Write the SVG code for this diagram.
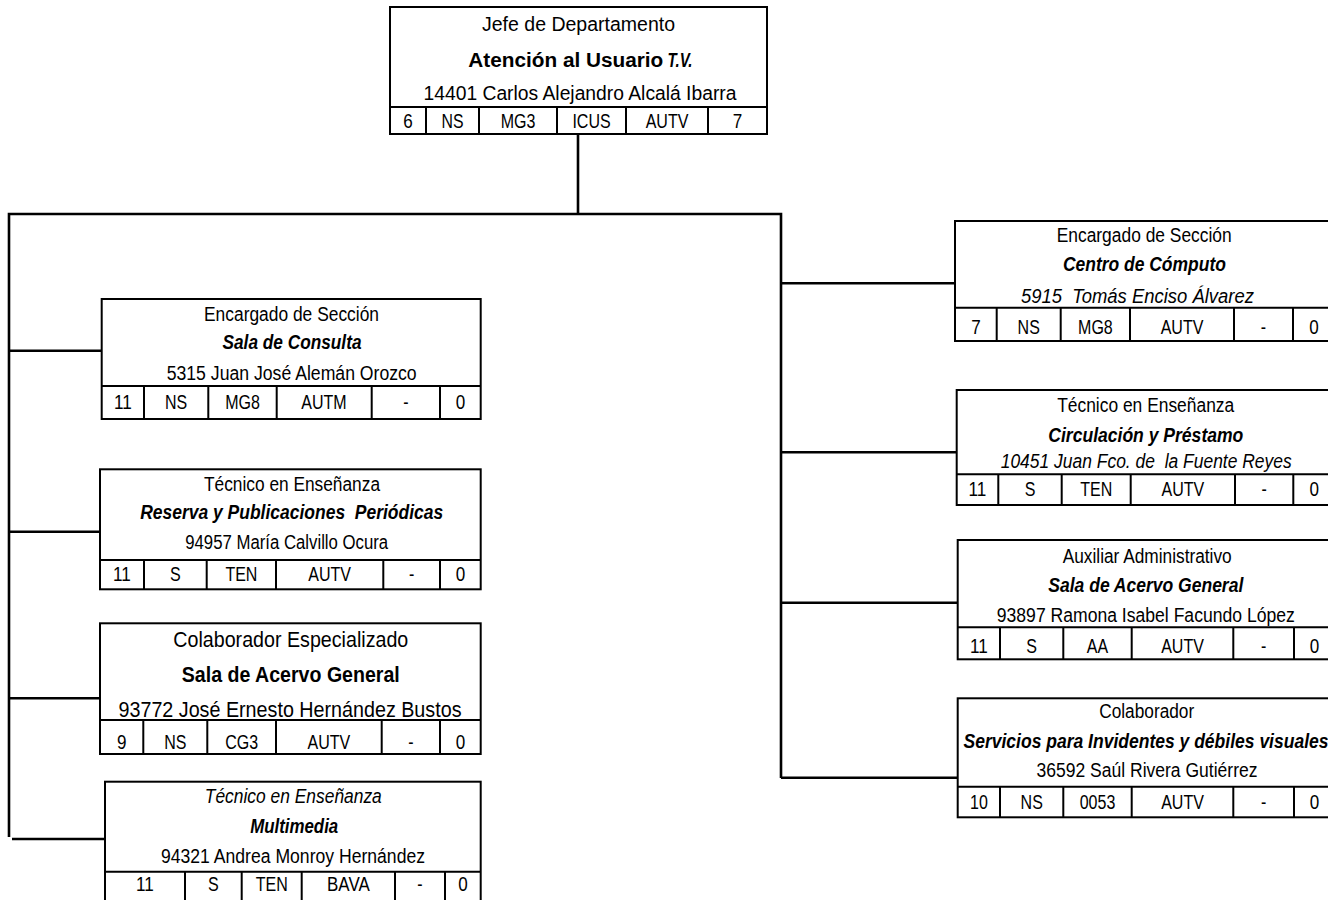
<svg xmlns="http://www.w3.org/2000/svg" width="1328" height="900" viewBox="0 0 1328 900">
<style>
.box{fill:#fff;stroke:#000;stroke-width:2}
.dv{stroke:#000;stroke-width:2;fill:none}
.cn{fill:none;stroke:#000;stroke-width:2.6;stroke-linejoin:miter}
text{font-family:"Liberation Sans",Arial,sans-serif;fill:#000;text-anchor:middle;font-size:20px}
.c{font-size:19.5px}
.l{font-size:21.5px}
.b{font-weight:bold}
.i{font-style:italic}
.s{text-anchor:start}
</style>
<rect width="1328" height="900" fill="#fff"/>
<g id="connectors">
<path class="cn" d="M578 134 V214"/>
<path class="cn" d="M9 837 V214 H781 V778"/>
<path class="cn" d="M9 350.7 H101.7 M9 531.7 H100 M9 698.3 H100 M12 839 H105"/>
<path class="cn" d="M781 283.3 H955 M781 452.3 H956.7 M781 602.7 H957.7 M781 777.7 H957.7"/>
</g>
<g id="n-jefe">
<rect class="box" x="390" y="7" width="377" height="127"/>
<path class="dv" d="M390 107 H767 M426 107 V134 M479 107 V134 M557 107 V134 M626 107 V134 M708 107 V134"/>
<text x="578.5" y="30.7" textLength="193" lengthAdjust="spacingAndGlyphs">Jefe de Departamento</text>
<text class="b s" x="468.3" y="66.5" textLength="195" lengthAdjust="spacingAndGlyphs">Atención al Usuario</text>
<text class="b i s" x="667.5" y="66.5" textLength="25" lengthAdjust="spacingAndGlyphs">T.V.</text>
<text x="580" y="99.8" textLength="313" lengthAdjust="spacingAndGlyphs">14401 Carlos Alejandro Alcalá Ibarra</text>
<text class="c" x="408" y="127.5" textLength="9.5" lengthAdjust="spacingAndGlyphs">6</text>
<text class="c" x="452.5" y="127.5" textLength="22" lengthAdjust="spacingAndGlyphs">NS</text>
<text class="c" x="518" y="127.5" textLength="34.7" lengthAdjust="spacingAndGlyphs">MG3</text>
<text class="c" x="591.5" y="127.5" textLength="38.2" lengthAdjust="spacingAndGlyphs">ICUS</text>
<text class="c" x="667" y="127.5" textLength="42.7" lengthAdjust="spacingAndGlyphs">AUTV</text>
<text class="c" x="737.5" y="127.5" textLength="9.5" lengthAdjust="spacingAndGlyphs">7</text>
</g>
<g id="n-sala-consulta">
<rect class="box" x="101.7" y="299" width="379" height="120"/>
<path class="dv" d="M101.7 386 H480.7 M144 386 V419 M208.3 386 V419 M276.7 386 V419 M371.7 386 V419 M440 386 V419"/>
<text x="291.5" y="320.7" textLength="175" lengthAdjust="spacingAndGlyphs">Encargado de Sección</text>
<text class="b i" x="292" y="349" textLength="139" lengthAdjust="spacingAndGlyphs">Sala de Consulta</text>
<text x="291.7" y="380" textLength="250" lengthAdjust="spacingAndGlyphs">5315 Juan José Alemán Orozco</text>
<text class="c" x="122.9" y="409" textLength="17.8" lengthAdjust="spacingAndGlyphs">11</text>
<text class="c" x="176" y="409" textLength="22.2" lengthAdjust="spacingAndGlyphs">NS</text>
<text class="c" x="242.5" y="409" textLength="34.7" lengthAdjust="spacingAndGlyphs">MG8</text>
<text class="c" x="324" y="409" textLength="45.3" lengthAdjust="spacingAndGlyphs">AUTM</text>
<text class="c" x="405.9" y="409" textLength="5.3" lengthAdjust="spacingAndGlyphs">-</text>
<text class="c" x="460.4" y="409" textLength="9.5" lengthAdjust="spacingAndGlyphs">0</text>
</g>
<g id="n-reserva">
<rect class="box" x="100" y="469.3" width="380.7" height="120"/>
<path class="dv" d="M100 560 H480.7 M144 560 V589.3 M206.7 560 V589.3 M276 560 V589.3 M383.3 560 V589.3 M440 560 V589.3"/>
<text x="292" y="491" textLength="176" lengthAdjust="spacingAndGlyphs">Técnico en Enseñanza</text>
<text class="b i" x="291.7" y="519.3" textLength="303" lengthAdjust="spacingAndGlyphs" xml:space="preserve">Reserva y Publicaciones  Periódicas</text>
<text x="286.7" y="549.3" textLength="203" lengthAdjust="spacingAndGlyphs">94957 María Calvillo Ocura</text>
<text class="c" x="122" y="581" textLength="17.8" lengthAdjust="spacingAndGlyphs">11</text>
<text class="c" x="175.4" y="581" textLength="10.7" lengthAdjust="spacingAndGlyphs">S</text>
<text class="c" x="241.4" y="581" textLength="32" lengthAdjust="spacingAndGlyphs">TEN</text>
<text class="c" x="329.7" y="581" textLength="42.7" lengthAdjust="spacingAndGlyphs">AUTV</text>
<text class="c" x="411.7" y="581" textLength="5.3" lengthAdjust="spacingAndGlyphs">-</text>
<text class="c" x="460.4" y="581" textLength="9.5" lengthAdjust="spacingAndGlyphs">0</text>
</g>
<g id="n-colab-esp">
<rect class="box" x="100" y="623.3" width="380.7" height="130.7"/>
<path class="dv" d="M100 720 H480.7 M143.3 720 V754 M207.3 720 V754 M276 720 V754 M381.7 720 V754 M440 720 V754"/>
<text class="l" x="290.8" y="646.7" textLength="235" lengthAdjust="spacingAndGlyphs">Colaborador Especializado</text>
<text class="l b" x="290.8" y="681.7" textLength="218" lengthAdjust="spacingAndGlyphs">Sala de Acervo General</text>
<text class="l" x="290" y="716.7" textLength="343" lengthAdjust="spacingAndGlyphs">93772 José Ernesto Hernández Bustos</text>
<text class="c" x="121.7" y="749" textLength="9.5" lengthAdjust="spacingAndGlyphs">9</text>
<text class="c" x="175.3" y="749" textLength="22.2" lengthAdjust="spacingAndGlyphs">NS</text>
<text class="c" x="241.7" y="749" textLength="32.9" lengthAdjust="spacingAndGlyphs">CG3</text>
<text class="c" x="328.9" y="749" textLength="42.7" lengthAdjust="spacingAndGlyphs">AUTV</text>
<text class="c" x="410.9" y="749" textLength="5.3" lengthAdjust="spacingAndGlyphs">-</text>
<text class="c" x="460.4" y="749" textLength="9.5" lengthAdjust="spacingAndGlyphs">0</text>
</g>
<g id="n-multimedia">
<rect class="box" x="105" y="781.7" width="375.7" height="125"/>
<path class="dv" d="M105 871.7 H480.7 M185 871.7 V906 M241.7 871.7 V906 M301.7 871.7 V906 M395 871.7 V906 M445 871.7 V906"/>
<text class="i" x="293.3" y="803.3" textLength="177" lengthAdjust="spacingAndGlyphs">Técnico en Enseñanza</text>
<text class="b i" x="294.2" y="833.3" textLength="88" lengthAdjust="spacingAndGlyphs">Multimedia</text>
<text x="293" y="863.3" textLength="264" lengthAdjust="spacingAndGlyphs">94321 Andrea Monroy Hernández</text>
<text class="c" x="145" y="891" textLength="17.8" lengthAdjust="spacingAndGlyphs">11</text>
<text class="c" x="213.4" y="891" textLength="10.7" lengthAdjust="spacingAndGlyphs">S</text>
<text class="c" x="271.7" y="891" textLength="32" lengthAdjust="spacingAndGlyphs">TEN</text>
<text class="c" x="348.4" y="891" textLength="42.7" lengthAdjust="spacingAndGlyphs">BAVA</text>
<text class="c" x="420" y="891" textLength="5.3" lengthAdjust="spacingAndGlyphs">-</text>
<text class="c" x="462.9" y="891" textLength="9.5" lengthAdjust="spacingAndGlyphs">0</text>
</g>
<g id="n-computo">
<rect class="box" x="955" y="221" width="380" height="120"/>
<path class="dv" d="M955 307.7 H1335 M996.7 307.7 V341 M1060.7 307.7 V341 M1130 307.7 V341 M1234 307.7 V341 M1293 307.7 V341"/>
<text x="1144.2" y="241.5" textLength="175" lengthAdjust="spacingAndGlyphs">Encargado de Sección</text>
<text class="b i" x="1144.4" y="271" textLength="163" lengthAdjust="spacingAndGlyphs">Centro de Cómputo</text>
<text class="i" x="1137.4" y="302.5" textLength="233" lengthAdjust="spacingAndGlyphs" xml:space="preserve">5915  Tomás Enciso Álvarez</text>
<text class="c" x="975.9" y="334" textLength="9.5" lengthAdjust="spacingAndGlyphs">7</text>
<text class="c" x="1028.7" y="334" textLength="22.2" lengthAdjust="spacingAndGlyphs">NS</text>
<text class="c" x="1095.4" y="334" textLength="34.7" lengthAdjust="spacingAndGlyphs">MG8</text>
<text class="c" x="1182" y="334" textLength="42.7" lengthAdjust="spacingAndGlyphs">AUTV</text>
<text class="c" x="1263.5" y="334" textLength="5.3" lengthAdjust="spacingAndGlyphs">-</text>
<text class="c" x="1314" y="334" textLength="9.5" lengthAdjust="spacingAndGlyphs">0</text>
</g>
<g id="n-circulacion">
<rect class="box" x="956.7" y="390" width="378.3" height="115"/>
<path class="dv" d="M956.7 474.3 H1335 M998.3 474.3 V505 M1061.7 474.3 V505 M1130.7 474.3 V505 M1235 474.3 V505 M1293.3 474.3 V505"/>
<text x="1145.7" y="411.7" textLength="177" lengthAdjust="spacingAndGlyphs">Técnico en Enseñanza</text>
<text class="b i" x="1145.8" y="441.7" textLength="195" lengthAdjust="spacingAndGlyphs">Circulación y Préstamo</text>
<text class="i" x="1146.2" y="467.8" textLength="291" lengthAdjust="spacingAndGlyphs" xml:space="preserve">10451 Juan Fco. de  la Fuente Reyes</text>
<text class="c" x="977.5" y="495.5" textLength="17.8" lengthAdjust="spacingAndGlyphs">11</text>
<text class="c" x="1030" y="495.5" textLength="10.7" lengthAdjust="spacingAndGlyphs">S</text>
<text class="c" x="1096.2" y="495.5" textLength="32" lengthAdjust="spacingAndGlyphs">TEN</text>
<text class="c" x="1182.9" y="495.5" textLength="42.7" lengthAdjust="spacingAndGlyphs">AUTV</text>
<text class="c" x="1264.2" y="495.5" textLength="5.3" lengthAdjust="spacingAndGlyphs">-</text>
<text class="c" x="1314.2" y="495.5" textLength="9.5" lengthAdjust="spacingAndGlyphs">0</text>
</g>
<g id="n-acervo-aux">
<rect class="box" x="957.7" y="540" width="377.3" height="119.3"/>
<path class="dv" d="M957.7 627.3 H1335 M1000 627.3 V659.3 M1063.3 627.3 V659.3 M1131.7 627.3 V659.3 M1233.3 627.3 V659.3 M1294 627.3 V659.3"/>
<text x="1147.2" y="563.3" textLength="169" lengthAdjust="spacingAndGlyphs">Auxiliar Administrativo</text>
<text class="b i" x="1145.8" y="591.7" textLength="195" lengthAdjust="spacingAndGlyphs">Sala de Acervo General</text>
<text x="1145.8" y="622.2" textLength="298" lengthAdjust="spacingAndGlyphs">93897 Ramona Isabel Facundo López</text>
<text class="c" x="978.9" y="653" textLength="17.8" lengthAdjust="spacingAndGlyphs">11</text>
<text class="c" x="1031.7" y="653" textLength="10.7" lengthAdjust="spacingAndGlyphs">S</text>
<text class="c" x="1097.5" y="653" textLength="21.3" lengthAdjust="spacingAndGlyphs">AA</text>
<text class="c" x="1182.5" y="653" textLength="42.7" lengthAdjust="spacingAndGlyphs">AUTV</text>
<text class="c" x="1263.7" y="653" textLength="5.3" lengthAdjust="spacingAndGlyphs">-</text>
<text class="c" x="1314.5" y="653" textLength="9.5" lengthAdjust="spacingAndGlyphs">0</text>
</g>
<g id="n-invidentes">
<rect class="box" x="957.7" y="698.3" width="377.3" height="119"/>
<path class="dv" d="M957.7 786.7 H1335 M1000 786.7 V817.3 M1063.3 786.7 V817.3 M1131.7 786.7 V817.3 M1233.3 786.7 V817.3 M1294 786.7 V817.3"/>
<text x="1146.7" y="718.3" textLength="95" lengthAdjust="spacingAndGlyphs">Colaborador</text>
<text class="b i" x="1146" y="748.3" textLength="365" lengthAdjust="spacingAndGlyphs">Servicios para Invidentes y débiles visuales</text>
<text x="1147" y="776.7" textLength="221" lengthAdjust="spacingAndGlyphs">36592 Saúl Rivera Gutiérrez</text>
<text class="c" x="978.9" y="808.5" textLength="17.8" lengthAdjust="spacingAndGlyphs">10</text>
<text class="c" x="1031.7" y="808.5" textLength="22.2" lengthAdjust="spacingAndGlyphs">NS</text>
<text class="c" x="1097.5" y="808.5" textLength="35.6" lengthAdjust="spacingAndGlyphs">0053</text>
<text class="c" x="1182.5" y="808.5" textLength="42.7" lengthAdjust="spacingAndGlyphs">AUTV</text>
<text class="c" x="1263.7" y="808.5" textLength="5.3" lengthAdjust="spacingAndGlyphs">-</text>
<text class="c" x="1314.5" y="808.5" textLength="9.5" lengthAdjust="spacingAndGlyphs">0</text>
</g>
</svg>
